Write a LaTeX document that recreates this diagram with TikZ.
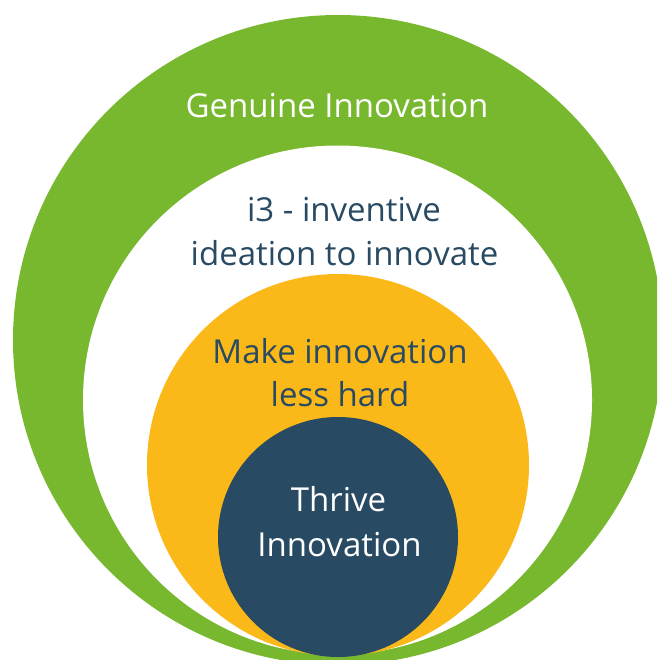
\documentclass[tikz,border=0pt]{standalone}
\usepackage{fontspec}
\setmainfont{Open Sans}
\definecolor{cgreen}{HTML}{77B82F}
\definecolor{cyellow}{HTML}{FAB918}
\definecolor{cblue}{HTML}{284A62}
\begin{document}
\begin{tikzpicture}[x=1pt,y=-1pt,
  ring/.style={circle,inner sep=0pt,draw=none},
  lbl/.style={anchor=base,inner sep=0pt,font=\fontsize{33}{43}\selectfont}]
\useasboundingbox (0,0) rectangle (657,660);
\clip (0,0) rectangle (657,660);
\node[ring,fill=cgreen,minimum size=650pt] (green) at (338,340) {};
\node[ring,fill=white,minimum size=509pt] (white) at (337.5,400) {};
\node[ring,fill=cyellow,minimum size=382pt] (yellow) at (338,465) {};
\node[ring,fill=cblue,minimum size=240pt] (blue) at (338,537) {};
\node[lbl,text=white] (t1) at (337,117.7) {Genuine Innovation};
\node[lbl,text=cblue] (t2a) at (344,222) {i3 - inventive};
\node[lbl,text=cblue] (t2b) at (344.5,265) {ideation to innovate};
\node[lbl,text=cblue] (t3a) at (340,363) {Make innovation};
\node[lbl,text=cblue] (t3b) at (340,406) {less hard};
\node[lbl,text=white] (t4a) at (338.5,511) {Thrive};
\node[lbl,text=white] (t4b) at (339.5,556.5) {Innovation};
\end{tikzpicture}
\end{document}
